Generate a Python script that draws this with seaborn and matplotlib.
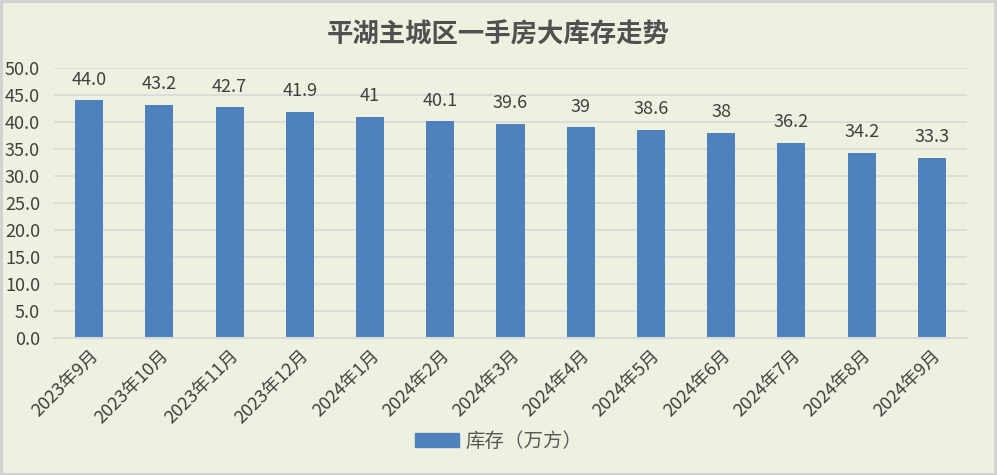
import matplotlib
matplotlib.use("Agg")
import matplotlib.pyplot as plt
import seaborn as sns
import pandas as pd
from matplotlib.patches import Rectangle

months = ["2023年9月", "2023年10月", "2023年11月", "2023年12月", "2024年1月", "2024年2月",
          "2024年3月", "2024年4月", "2024年5月", "2024年6月", "2024年7月", "2024年8月", "2024年9月"]
inventory = [44.0, 43.2, 42.7, 41.9, 41, 40.1, 39.6, 39, 38.6, 38, 36.2, 34.2, 33.3]
value_labels = ["44.0", "43.2", "42.7", "41.9", "41", "40.1", "39.6", "39", "38.6", "38", "36.2", "34.2", "33.3"]
series_name = "库存（万方）"
title = "平湖主城区一手房大库存走势"

sns.set_theme(style="white")
plt.rcParams['font.family'] = ['Noto Sans CJK SC', 'DejaVu Sans']

bg = "#EEF1E0"
txt = "#404040"
grid = "#D9D9D9"
bar_color = "#4F81BD"

df = pd.DataFrame({"month": months, "value": inventory})

fig = plt.figure(figsize=(9.97, 4.75), dpi=100, facecolor=bg)
ax = fig.add_axes([54/997, 1-338/475, (967-54)/997, (338-68)/475])
ax.set_facecolor(bg)

sns.barplot(data=df, x="month", y="value", color=bar_color, width=0.4, ax=ax,
            saturation=1, linewidth=0, edgecolor=bar_color)
if ax.get_legend() is not None:
    ax.get_legend().remove()

ax.set_ylim(0, 50)
ax.set_xlim(-0.5, len(months)-0.5)
ax.set_yticks([i*5 for i in range(11)])
ax.set_yticklabels([f"{i*5:.1f}" for i in range(11)], color=txt, fontsize=13)
ax.yaxis.grid(True, color=grid, linewidth=1.2)
ax.set_axisbelow(True)
ax.set_xlabel("")
ax.set_ylabel("")
for s in ["top", "right", "left"]:
    ax.spines[s].set_visible(False)
ax.spines["bottom"].set_color(grid)
ax.spines["bottom"].set_linewidth(1.5)
ax.tick_params(axis="y", length=0, pad=10)

# x ticks between categories
ax.set_xticks([i - 0.5 for i in range(len(months)+1)], minor=True)
ax.tick_params(axis="x", which="minor", length=6, color=grid, width=1.5)
ax.set_xticks(range(len(months)))
ax.set_xticklabels(months, rotation=45, ha="right", rotation_mode="anchor",
                   color=txt, fontsize=13)
ax.tick_params(axis="x", which="major", length=0, pad=6)

for i, (v, lab) in enumerate(zip(inventory, value_labels)):
    ax.text(i, v + 2.2, lab, ha="center", va="bottom", fontsize=13, color=txt)

fig.text(0.5, 1-35/475, title, ha="center", va="center", fontsize=19,
         fontweight="bold", color="#505050")

leg = fig.legend(handles=[Rectangle((0, 0), 1, 1, color=bar_color)], labels=[series_name],
                 loc="center", bbox_to_anchor=(0.5, 1-441/475), frameon=False,
                 fontsize=14, handlelength=2.3, handleheight=0.7, handletextpad=0.3)
for t in leg.get_texts():
    t.set_color("#595959")

fig.patches.append(Rectangle((0.001, 0.002), 0.997, 0.995, transform=fig.transFigure,
                             fill=False, edgecolor="#D0D0D0", linewidth=2))

fig.savefig("out.png", dpi=100, facecolor=bg)
